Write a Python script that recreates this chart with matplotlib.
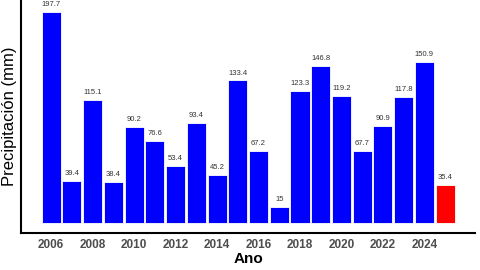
import matplotlib
matplotlib.use("Agg")
import matplotlib.pyplot as plt

plt.rcParams["font.family"] = ["Liberation Sans", "DejaVu Sans"]

# ── Data ──────────────────────────────────────────────────────────────────────
YEARS  = list(range(2006, 2026))
PRECIP = [197.7, 39.4, 115.1, 38.4, 90.2, 76.6, 53.4, 93.4, 45.2, 133.4,
          67.2, 15, 123.3, 146.8, 119.2, 67.7, 90.9, 117.8, 150.9, 35.4]
LABELS = ["197.7", "39.4", "115.1", "38.4", "90.2", "76.6", "53.4", "93.4",
          "45.2", "133.4", "67.2", "15", "123.3", "146.8", "119.2", "67.7",
          "90.9", "117.8", "150.9", "35.4"]
TICKS  = list(range(2006, 2025, 2))

colors = ["#0000FF"] * (len(YEARS) - 1) + ["#FF0000"]

# ── Figure ────────────────────────────────────────────────────────────────────
fig = plt.figure(figsize=(4.8, 2.7), dpi=100)
ax = fig.add_axes([0.044, 0.137, 0.946, 0.863])

ax.bar(YEARS, PRECIP, width=0.92, color=colors, edgecolor="white",
       linewidth=0.6)
for x, v, lab in zip(YEARS, PRECIP, LABELS):
    ax.text(x, v + 3.5, lab, ha="center", va="bottom", fontsize=5.5,
            color="#333333")

ax.set_xlim(2004.55, 2026.45)
ax.set_ylim(-9.4, 208.6)
ax.set_xticks(TICKS)
ax.set_xticklabels([str(t) for t in TICKS], fontsize=8.5, fontweight="bold",
                   color="#4D4D4D")
ax.set_yticks([])
ax.tick_params(axis="x", length=0, pad=4)

ax.set_xlabel("Ano", fontsize=11, fontweight="bold", labelpad=1)
ax.set_ylabel("Precipitación (mm)", fontsize=12, labelpad=3)

for spine in ("top", "right"):
    ax.spines[spine].set_visible(False)
for spine in ("left", "bottom"):
    ax.spines[spine].set_linewidth(1.5)

fig.savefig("out.png", dpi=100)
